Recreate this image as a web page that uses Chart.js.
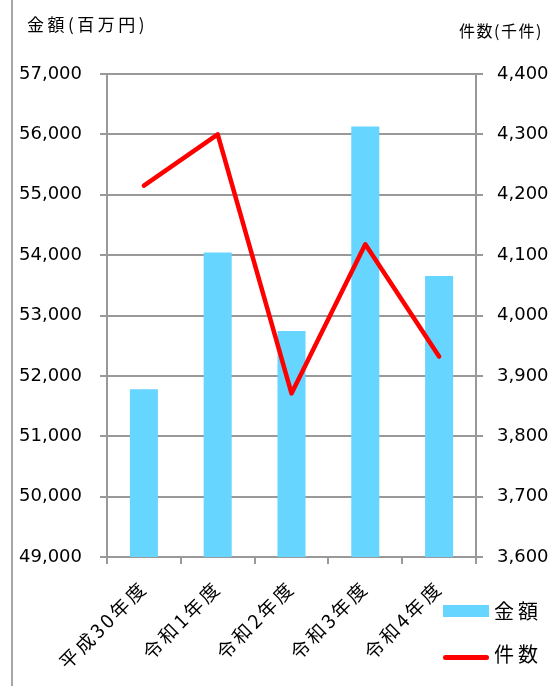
<!DOCTYPE html>
<html lang="ja">
<head>
<meta charset="UTF-8">
<title>金額・件数の推移</title>
<script src="https://cdn.jsdelivr.net/npm/chart.js"></script>
<style>
    html, body { margin: 0; padding: 0; background: #fff; }
    #wrap { position: relative; width: 554px; height: 686px; overflow: hidden; }
    #wrap canvas { position: absolute; left: 0; top: 0; }
    .frame { position: absolute; left: 11px; top: 0; width: 2px; height: 686px; background: #a6a6a6; }
    .axis-title { position: absolute; font-family: "Noto Sans CJK JP", sans-serif; color: #000; white-space: nowrap; line-height: 1; }
    .legend { position: absolute; left: 443px; top: 0; font-family: "Noto Sans CJK JP", sans-serif; font-size: 20px; letter-spacing: 4px; line-height: 1; color: #000; }
    .legend .swatch { position: absolute; left: 0; width: 46px; }
    .legend .label { position: absolute; left: 51px; white-space: nowrap; }
</style>
</head>
<body>
<div id="wrap">
    <canvas id="chart" width="554" height="686"></canvas>
    <div class="frame"></div>
    <div class="axis-title" style="left:27px; top:15px; font-size:17px; letter-spacing:3.5px;">金額(百万円)</div>
    <div class="axis-title" style="left:459px; top:22px; font-size:16px; letter-spacing:1.5px;">件数(千件)</div>
    <div class="legend" id="legend"></div>
</div>
<script>
// data
const categories = ['平成30年度', '令和1年度', '令和2年度', '令和3年度', '令和4年度'];
const amountValues = [51780, 54045, 52745, 56130, 53655];   // 金額 (百万円)
const countValues = [4215, 4300, 3871, 4118, 3932];         // 件数 (千件)
const amountTicks = [49000, 50000, 51000, 52000, 53000, 54000, 55000, 56000, 57000];
const countTicks = [3600, 3700, 3800, 3900, 4000, 4100, 4200, 4300, 4400];

const gridColor = '#999999';
const numFont = { family: 'DejaVu Sans', size: 18 };
const fmt = v => Number(v).toLocaleString('en-US');

// x labels in the original are spaced out a bit
function spacedLabels(s) {
    if (s._spaced) return;
    s._spaced = true;
    const orig = s.drawLabels;
    s.drawLabels = function (area) {
        const ctx = this.ctx;
        ctx.save();
        ctx.letterSpacing = '3px';
        orig.call(this, area);
        ctx.restore();
        ctx.letterSpacing = '0px';
    };
}

const chart = new Chart(document.getElementById('chart'), {
    data: {
        labels: categories,
        datasets: [
            {
                type: 'line',
                label: '件数',
                data: countValues,
                yAxisID: 'y1',
                borderColor: '#ff0000',
                backgroundColor: '#ff0000',
                borderWidth: 4.5,
                borderJoinStyle: 'round',
                borderCapStyle: 'round',
                pointRadius: 0,
                tension: 0,
                order: 0
            },
            {
                type: 'bar',
                label: '金額',
                data: amountValues,
                yAxisID: 'y',
                backgroundColor: '#66d5ff',
                borderWidth: 0,
                categoryPercentage: 1,
                barPercentage: 0.38,
                order: 1
            }
        ]
    },
    options: {
        responsive: false,
        animation: false,
        layout: { padding: { top: 74, left: 0, right: 0, bottom: 0 } },
        plugins: { legend: { display: false }, tooltip: { enabled: false } },
        scales: {
            x: {
                offset: true,
                grid: { display: true, offset: true, drawOnChartArea: false, drawTicks: true, tickLength: 7, color: gridColor, lineWidth: 2 },
                border: { display: true, color: gridColor, width: 2 },
                ticks: { color: '#000', font: { family: 'Noto Sans CJK JP', size: 19 }, minRotation: 45, maxRotation: 45, padding: 12, autoSkip: false },
                afterFit: s => { s.height = 129; spacedLabels(s); }
            },
            y: {
                position: 'left',
                min: 49000,
                max: 57000,
                afterBuildTicks: s => { s.ticks = amountTicks.map(v => ({ value: v })); },
                grid: { color: gridColor, lineWidth: 2, tickLength: 7 },
                border: { display: true, color: gridColor, width: 2 },
                ticks: { color: '#000', font: numFont, padding: 18, callback: fmt },
                afterFit: s => { s.width = 107; }
            },
            y1: {
                position: 'right',
                min: 3600,
                max: 4400,
                afterBuildTicks: s => { s.ticks = countTicks.map(v => ({ value: v })); },
                grid: { drawOnChartArea: false, color: gridColor, lineWidth: 2, tickLength: 7 },
                border: { display: true, color: gridColor, width: 2 },
                ticks: { color: '#000', font: numFont, padding: 14, callback: fmt },
                afterFit: s => { s.width = 78; }
            }
        }
    }
});

// legend built from the chart's datasets
const legend = document.getElementById('legend');
const legendRows = [
    { ds: chart.data.datasets[1], textTop: 601, swatchTop: 605, swatchH: 12, radius: 0 },
    { ds: chart.data.datasets[0], textTop: 644, swatchTop: 655, swatchH: 5, radius: 3 }
];
legendRows.forEach(r => {
    const sw = document.createElement('div');
    sw.className = 'swatch';
    sw.style.top = r.swatchTop + 'px';
    sw.style.height = r.swatchH + 'px';
    sw.style.borderRadius = r.radius + 'px';
    sw.style.background = r.ds.type === 'line' ? r.ds.borderColor : r.ds.backgroundColor;
    const lb = document.createElement('div');
    lb.className = 'label';
    lb.style.top = r.textTop + 'px';
    lb.textContent = r.ds.label;
    legend.appendChild(sw);
    legend.appendChild(lb);
});
</script>
</body>
</html>
